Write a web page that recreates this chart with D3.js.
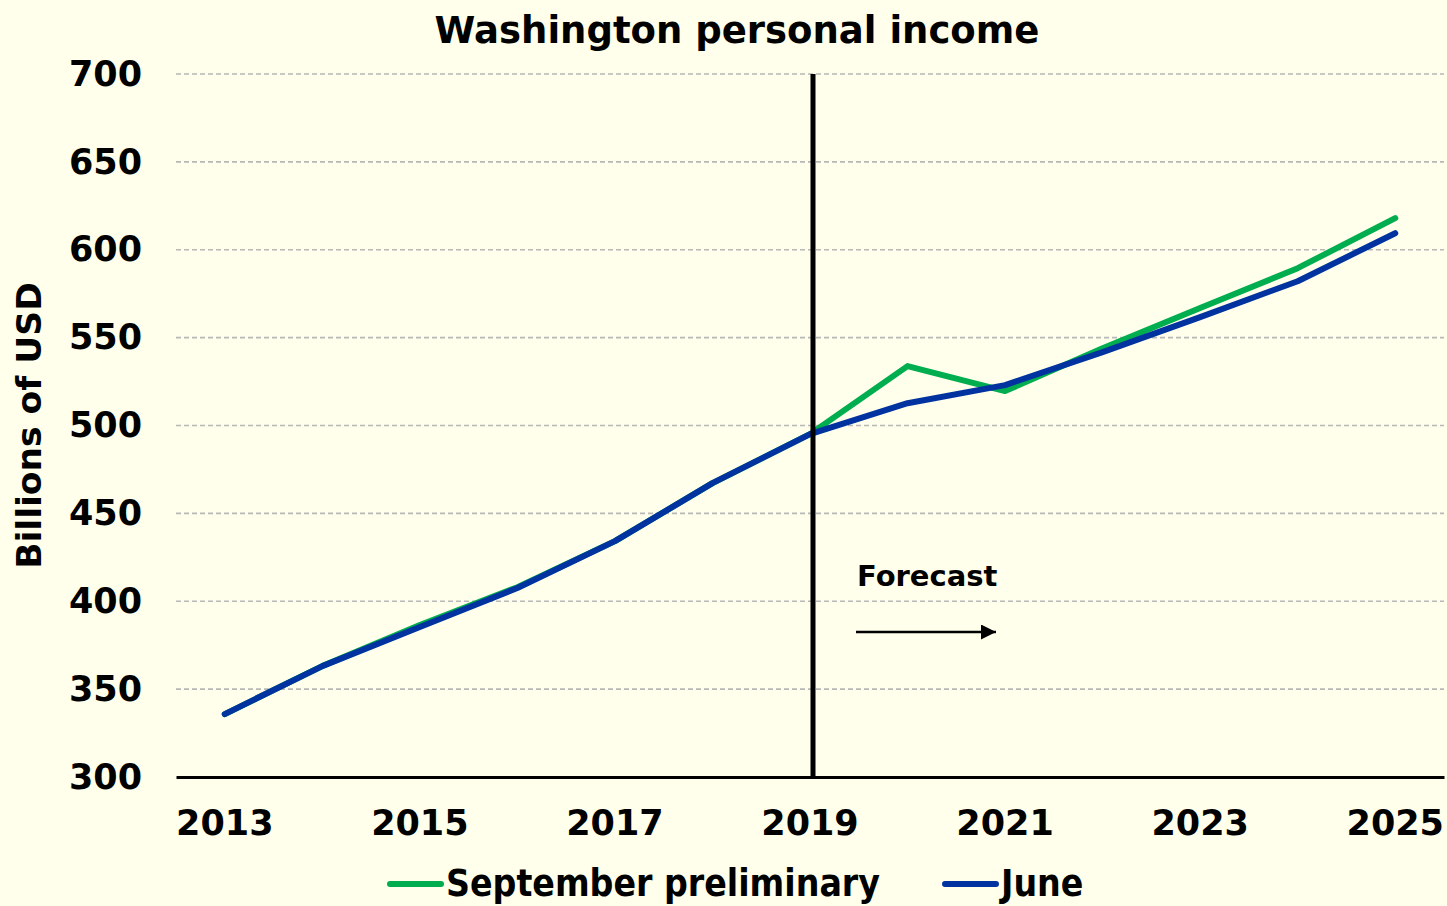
<!DOCTYPE html>
<html>
<head>
<meta charset="utf-8">
<script src="https://cdn.jsdelivr.net/npm/d3@7"></script>
<style>
  body { margin: 0; background: #FFFFEB; }
  svg { display: block; font-family: "DejaVu Sans", Verdana, sans-serif; font-weight: bold; }
</style>
</head>
<body>
<svg class="chart" width="1447" height="906"></svg>
<script>
var years = [2013, 2014, 2015, 2016, 2017, 2018, 2019, 2020, 2021, 2022, 2023, 2024, 2025];
var septemberValues = [335.8, 363.1, 386.5, 408.0, 434.2, 467.2, 495.1, 533.8, 519.6, 544.0, 566.8, 589.5, 618.0];
var juneValues = [335.8, 363.1, 385.3, 407.5, 434.2, 467.2, 495.1, 512.7, 523.0, 541.8, 561.7, 582.1, 609.4];
var yTicks = [300, 350, 400, 450, 500, 550, 600, 650, 700];
var xTickYears = [2013, 2015, 2017, 2019, 2021, 2023, 2025];
var forecastYear = 2019;

var series = [
  { name: "September preliminary", values: septemberValues, color: "#00AD4F" },
  { name: "June", values: juneValues, color: "#0033A0" }
];

var svg = d3.select("svg.chart"),
    margin = { top: 74, right: 3, bottom: 129, left: 176 },
    width = +svg.attr("width") - margin.left - margin.right,
    height = +svg.attr("height") - margin.top - margin.bottom;

svg.append("rect").attr("width", 1447).attr("height", 906).attr("fill", "#FFFFEB");

var g = svg.append("g").attr("transform", "translate(" + margin.left + "," + margin.top + ")");

var x = d3.scaleBand().domain(years).range([0, width]);
var y = d3.scaleLinear().domain([300, 700]).range([height, 0]);
function cx(yr) { return x(yr) + x.bandwidth() / 2; }

// gridlines
g.selectAll(".grid")
  .data(yTicks.slice(1))
  .enter().append("line")
  .attr("x1", 0).attr("x2", width)
  .attr("y1", function (d) { return y(d); })
  .attr("y2", function (d) { return y(d); })
  .attr("stroke", "#B8B8B8")
  .attr("stroke-width", 1.6)
  .attr("stroke-dasharray", "5,3");

// y axis labels
var yAxis = d3.axisLeft(y).tickValues(yTicks).tickSize(0).tickPadding(34);
g.append("g").call(yAxis)
  .call(function (s) { s.select(".domain").remove(); })
  .selectAll("text")
  .attr("font-family", "DejaVu Sans, Verdana, sans-serif")
  .attr("font-weight", "bold")
  .attr("font-size", 35)
  .attr("fill", "#000");

// x axis
var xAxis = d3.axisBottom(x).tickValues(xTickYears).tickSize(0).tickPadding(33);
var xg = g.append("g").attr("transform", "translate(0," + height + ")").call(xAxis);
xg.select(".domain").attr("stroke", "#000").attr("stroke-width", 3);
xg.selectAll("text")
  .attr("font-family", "DejaVu Sans, Verdana, sans-serif")
  .attr("font-weight", "bold")
  .attr("font-size", 35)
  .attr("fill", "#000");

// lines
var line = d3.line()
  .x(function (d, i) { return cx(years[i]); })
  .y(function (d) { return y(d); });

series.forEach(function (s) {
  g.append("path")
    .datum(s.values)
    .attr("fill", "none")
    .attr("stroke", s.color)
    .attr("stroke-width", 6)
    .attr("stroke-linejoin", "round")
    .attr("stroke-linecap", "round")
    .attr("d", line);
});

// forecast divider
g.append("line")
  .attr("x1", cx(forecastYear) + 3).attr("x2", cx(forecastYear) + 3)
  .attr("y1", 0).attr("y2", height)
  .attr("stroke", "#000").attr("stroke-width", 5);

g.append("text")
  .attr("x", cx(forecastYear) + 47).attr("y", y(400) - 15)
  .attr("font-size", 29)
  .text("Forecast");

svg.append("defs").append("marker")
  .attr("id", "arrow").attr("viewBox", "0 0 10 10")
  .attr("refX", 10).attr("refY", 5)
  .attr("markerWidth", 6).attr("markerHeight", 6)
  .attr("markerUnits", "strokeWidth")
  .attr("orient", "auto")
  .append("path").attr("d", "M0,0L10,5L0,10z").attr("fill", "#000");

g.append("line")
  .attr("x1", cx(forecastYear) + 46).attr("x2", cx(forecastYear) + 186)
  .attr("y1", y(382.5)).attr("y2", y(382.5))
  .attr("stroke", "#000").attr("stroke-width", 2.5)
  .attr("marker-end", "url(#arrow)");

// title
svg.append("text")
  .attr("x", 737).attr("y", 43)
  .attr("text-anchor", "middle")
  .attr("font-size", 37)
  .text("Washington personal income");

// y axis title
svg.append("text")
  .attr("transform", "translate(41," + (margin.top + height / 2) + ") rotate(-90)")
  .attr("text-anchor", "middle")
  .attr("font-size", 34.5)
  .text("Billions of USD");

// legend
var legendX = [388, 943];
var legend = svg.selectAll(".legend")
  .data(series)
  .enter().append("g")
  .attr("transform", function (d, i) { return "translate(" + legendX[i] + ",884)"; });
legend.append("line")
  .attr("x1", 2).attr("x2", 53)
  .attr("stroke", function (d) { return d.color; })
  .attr("stroke-width", 6)
  .attr("stroke-linecap", "round");
legend.append("text")
  .attr("x", 58).attr("y", 12)
  .attr("font-family", "DejaVu Sans Condensed, sans-serif")
  .attr("font-size", 37)
  .text(function (d) { return d.name; });
</script>
</body>
</html>
